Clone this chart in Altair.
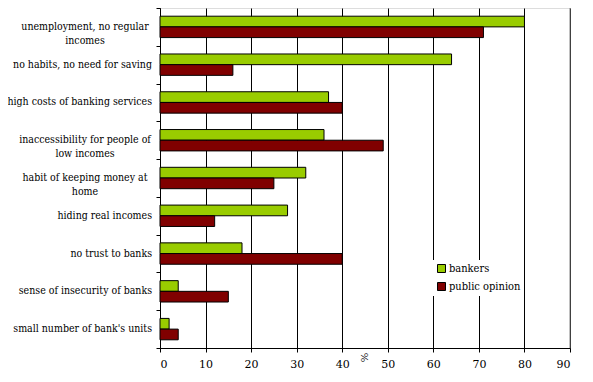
import altair as alt
import pandas as pd

categories = [
    "unemployment, no regular|incomes",
    "no habits, no need for saving",
    "high costs of banking services",
    "inaccessibility for people of|low incomes",
    "habit of keeping money at|home",
    "hiding real incomes",
    "no trust to banks",
    "sense of insecurity of banks",
    "small number of bank's units",
]
bankers = [80, 64, 37, 36, 32, 28, 18, 4, 2]
public_opinion = [71, 16, 40, 49, 25, 12, 40, 15, 4]
series = ["bankers", "public opinion"]
colors = ["#99CC00", "#800000"]
x_ticks = [0, 10, 20, 30, 40, 50, 60, 70, 80, 90]

rows = []
for c, b, p in zip(categories, bankers, public_opinion):
    rows.append({"cat": c, "series": "bankers", "value": b})
    rows.append({"cat": c, "series": "public opinion", "value": p})
df = pd.DataFrame(rows)
cat_df = pd.DataFrame({"cat": categories})

FONT_COND = "DejaVu Serif Condensed"
FONT = "DejaVu Serif"

y_enc = alt.Y(
    "cat:N",
    sort=categories,
    scale=alt.Scale(paddingInner=0, paddingOuter=0),
    axis=alt.Axis(
        title=None,
        labels=False,
        tickBand="extent",
        tickSize=4,
        tickColor="black",
        domainColor="black",
        grid=False,
    ),
)

bars = alt.Chart(df).mark_bar(stroke="black", strokeWidth=1).encode(
    y=y_enc,
    yOffset=alt.YOffset(
        "series:N",
        sort=series,
        scale=alt.Scale(paddingInner=0, paddingOuter=0.767),
    ),
    x=alt.X(
        "value:Q",
        scale=alt.Scale(domain=[0, 90], nice=False, zero=True),
        axis=alt.Axis(
            values=x_ticks,
            title="%",
            titleAngle=90,
            titleFontSize=10,
            titleFontWeight="normal",
            titleFont=FONT,
            titleX=203,
            titleY=9,
            titleAlign="center",
            titleBaseline="middle",
            labelFontSize=11,
            labelFont=FONT,
            labelColor="black",
            labelPadding=6,
            tickSize=4,
            tickColor="black",
            domainColor="black",
            grid=True,
            gridColor="black",
            gridOpacity=1,
            gridWidth=1,
        ),
    ),
    color=alt.Color(
        "series:N",
        sort=series,
        scale=alt.Scale(domain=series, range=colors),
        legend=alt.Legend(
            title=None,
            orient="none",
            legendX=273,
            legendY=252,
            fillColor="white",
            padding=3,
            symbolType="square",
            symbolSize=64,
            symbolStrokeColor="black",
            symbolStrokeWidth=1,
            symbolOpacity=1,
            labelFontSize=11,
            labelFont=FONT_COND,
            labelColor="black",
            rowPadding=5,
            labelOffset=2,
        ),
    ),
)

label_base = alt.Chart(cat_df).transform_calculate(
    lines="split(datum.cat, '|')",
    multi="indexof(datum.cat, '|') >= 0",
)

single_labels = label_base.transform_filter("!datum.multi").mark_text(
    align="right", baseline="middle", font=FONT_COND, fontSize=10.5, color="black"
).encode(
    y=alt.Y("cat:N", sort=categories),
    x=alt.value(-8),
    text=alt.Text("lines:N"),
)

multi_labels = label_base.transform_filter("datum.multi").mark_text(
    align="center", baseline="middle", font=FONT_COND, fontSize=10.5, color="black", lineHeight=14
).encode(
    y=alt.Y("cat:N", sort=categories),
    x=alt.value(-75),
    text=alt.Text("lines:N"),
)

# right border drawn in gray over the 90 gridline
border = alt.Chart(pd.DataFrame({"v": [90]})).mark_rule(color="#808080", strokeWidth=1).encode(
    x="v:Q"
)

chart = alt.layer(bars, border, single_labels, multi_labels).properties(
    width=410,
    height=340,
    autosize=alt.AutoSizeParams(type="none"),
    padding={"left": 152, "top": 0, "right": 15, "bottom": 30},
).configure_view(
    stroke="#808080", strokeWidth=1
).configure(
    background="white"
)

chart.save("out.html", embed_options={"renderer": "svg", "actions": False})
